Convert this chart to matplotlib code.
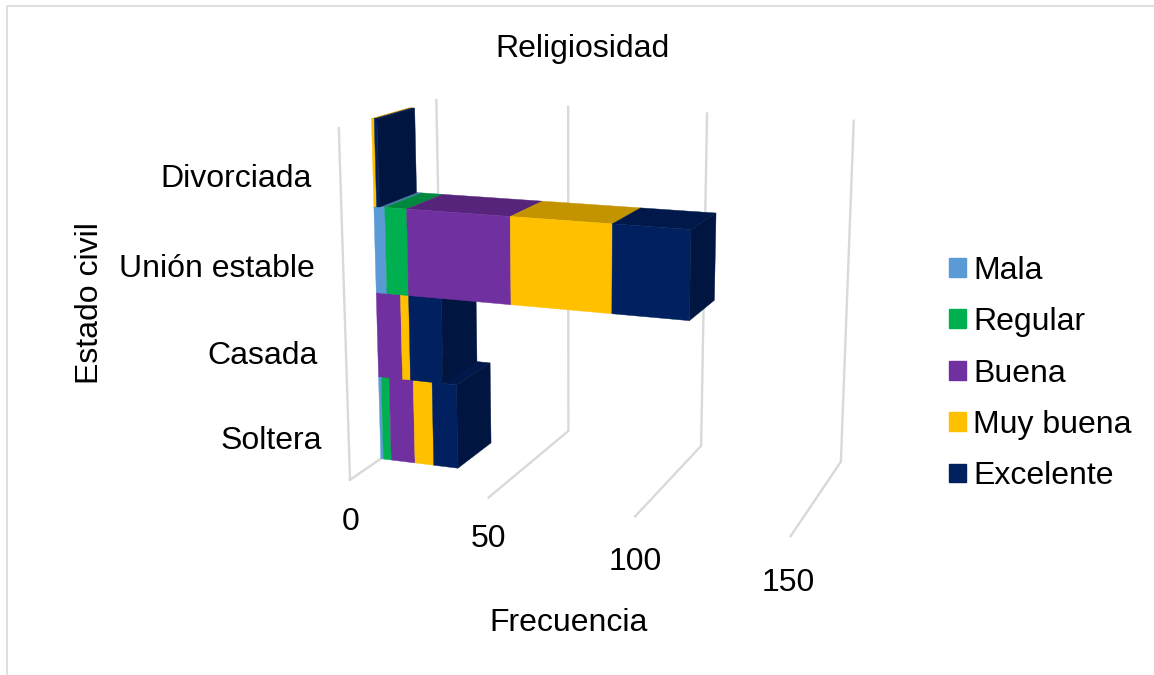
import numpy as np
import matplotlib
matplotlib.use("Agg")
import matplotlib.pyplot as plt
from matplotlib.patches import Patch

plt.rcParams['font.family'] = ['Liberation Sans', 'DejaVu Sans']

# ================= data =================
categorias = ['Soltera', 'Casada', 'Unión estable', 'Divorciada']
series = ['Mala', 'Regular', 'Buena', 'Muy buena', 'Excelente']
mala = [1, 0, 4, 0]
regular = [3, 0, 8, 0]
buena = [9, 9, 37, 0]
muy_buena = [7, 3, 35, 1]
excelente = [9, 12, 26, 1]
valores = [mala, regular, buena, muy_buena, excelente]
colores = ['#5B9BD5', '#00B050', '#7030A0', '#FFC000', '#002060']
ticks_valor = [0, 50, 100, 150]

# ================= perspective, fitted on the visible wall/floor corners =================
# (value, depth, height) -> pixel
anclas_3d = [(0, 0, 0), (50, 0, 0), (100, 0, 0), (150, 0, 0),
             (0, 1, 0), (50, 1, 0), (100, 1, 0), (150, 1, 0),
             (0, 0, 1), (0, 1, 1), (50, 1, 1), (100, 1, 1), (150, 1, 1)]
anclas_px = [(351, 479), (488, 497), (636, 516), (790, 538),
             (440, 418), (570, 430), (702, 445), (840, 462),
             (338, 128), (437, 100), (568, 108), (708, 113), (853, 120)]

filas = []
for (v, d, h), (px, py) in zip(anclas_3d, anclas_px):
    filas.append([v, d, h, 1, 0, 0, 0, 0, -px * v, -px * d, -px * h, -px])
    filas.append([0, 0, 0, 0, v, d, h, 1, -py * v, -py * d, -py * h, -py])
P = np.linalg.svd(np.array(filas, dtype=float))[2][-1].reshape(3, 4)


def proyectar(v, d, h):
    x, y, w = P @ np.array([v, d, h, 1.0])
    return x / w, y / w


def cara(puntos, color):
    ax.fill(*zip(*[proyectar(*p) for p in puntos]), facecolor=color, edgecolor=color, linewidth=0.3, zorder=3)


def oscurecer(color, f):
    r, g, b = matplotlib.colors.to_rgb(color)
    return (r * f, g * f, b * f)


fig = plt.figure(figsize=(11.54, 6.75), dpi=100)
ax = fig.add_axes([0, 0, 1, 1])
ax.set_xlim(0, 1154)
ax.set_ylim(675, 0)
ax.axis('off')

# chart frame
ax.plot([7, 7, 1154], [675, 6, 6], color='#D9D9D9', lw=1.2)

# gridlines: floor and wall at each value tick
for v in ticks_valor:
    ax.plot(*zip(proyectar(v, 0, 0), proyectar(v, 1, 0), proyectar(v, 1, 1)), color='#D9D9D9', lw=1.7)
ax.plot(*zip(proyectar(0, 0, 0), proyectar(0, 0, 1)), color='#D9D9D9', lw=1.7)

# stacked bars, from the floor upwards so the upper ones hide the lower tops
D0, D1 = 0.31, 0.70
n = len(categorias)
for i in range(n):
    h0, h1 = i / n, (i + 1) / n
    base = 0
    ultimo = max(k for k in range(len(series)) if valores[k][i] > 0)
    for k in range(len(series)):
        val = valores[k][i]
        if val == 0:
            continue
        fin = base + val
        cara([(base, D0, h1), (fin, D0, h1), (fin, D1, h1), (base, D1, h1)], oscurecer(colores[k], 0.77))
        cara([(base, D0, h0), (fin, D0, h0), (fin, D0, h1), (base, D0, h1)], colores[k])
        if k == ultimo:
            cara([(fin, D0, h0), (fin, D1, h0), (fin, D1, h1), (fin, D0, h1)], oscurecer(colores[k], 0.68))
        base = fin

# texts
fs = 23
ax.text(583, 49, 'Religiosidad', fontsize=fs, ha='center', va='center')
ax.text(569, 623, 'Frecuencia', fontsize=fs, ha='center', va='center')
ax.text(90, 303, 'Estado civil', fontsize=fs, rotation=90, ha='center', va='center')
for nombre, xd, yc in zip(categorias, [322, 318, 315, 312], [441, 356, 269, 179]):
    ax.text(xd, yc, nombre, fontsize=fs, ha='right', va='center')
for t, xc, yc in zip(ticks_valor, [351, 488, 635, 788], [522, 539, 562, 583]):
    ax.text(xc, yc, str(t), fontsize=fs, ha='center', va='center')

manijas = [Patch(facecolor=c, edgecolor=c) for c in colores]
ax.legend(manijas, series, loc='center left', bbox_to_anchor=(933 / 1154, 1 - 373.5 / 675), frameon=False,
          fontsize=fs, handlelength=0.53, handleheight=0.53, handletextpad=0.22, labelspacing=0.67, borderpad=0)

fig.savefig('out.png', dpi=100)
